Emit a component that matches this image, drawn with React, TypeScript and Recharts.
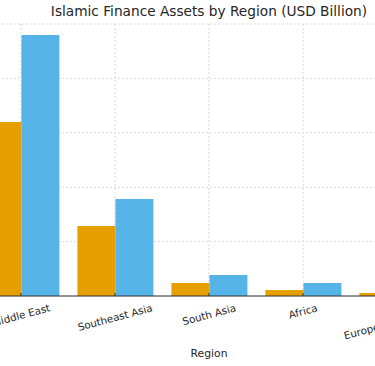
import React from "react";
import { Bar, BarChart, CartesianGrid, XAxis, YAxis } from "recharts";

const regions = ["Middle East", "Southeast Asia", "South Asia", "Africa", "Europe and Americas"];
const assets2018 = [800, 322, 60, 28, 14];
const assets2023 = [1200, 446, 97, 60, 22];
const yTicks = [0, 250, 500, 750, 1000, 1250];

const FONT = "DejaVu Sans";
const TICK_FONT = 10.3;
const ANGLE = 15;

let measureCtx: CanvasRenderingContext2D | null = null;
function textWidth(s: string) {
  if (!measureCtx) measureCtx = document.createElement("canvas").getContext("2d");
  if (!measureCtx) return s.length * TICK_FONT * 0.6;
  measureCtx.font = `${TICK_FONT}px "${FONT}"`;
  return measureCtx.measureText(s).width;
}

// matplotlib-style rotated label: centered on the tick, top of rotated box under the axis
function RegionTick(props: any) {
  const { x, y, payload } = props;
  const label = String(payload.value);
  const rad = (ANGLE * Math.PI) / 180;
  const w = textWidth(label);
  const h = TICK_FONT * 1.25;
  const boxH = w * Math.sin(rad) + h * Math.cos(rad);
  const cy = y + 5 + boxH / 2;
  return (
    <g>
      <line x1={x} x2={x} y1={y - 3} y2={y} stroke="#333" strokeWidth={1} />
      <text
        x={x}
        y={cy}
        textAnchor="middle"
        dominantBaseline="central"
        fontSize={TICK_FONT}
        fontFamily={FONT}
        fill="#262626"
        transform={`rotate(${-ANGLE}, ${x}, ${cy})`}
      >
        {label}
      </text>
    </g>
  );
}

export default function App() {
  const data = regions.map((region, i) => ({
    region,
    y2018: assets2018[i],
    y2023: assets2023[i],
  }));

  return (
    <div
      style={{
        position: "absolute",
        left: 0,
        top: 0,
        width: 375,
        height: 366,
        overflow: "hidden",
        background: "#fff",
        fontFamily: FONT,
      }}
    >
      <div style={{ position: "absolute", left: -100, top: 0 }}>
        <BarChart
          width={600}
          height={366}
          data={data}
          margin={{ top: 24, right: 56, bottom: 0, left: 74 }}
          barCategoryGap="10%"
          barGap={0}
        >
          <CartesianGrid stroke="#dadada" strokeDasharray="2 2" />
          <XAxis
            dataKey="region"
            interval={0}
            height={70}
            tickSize={0}
            tickMargin={0}
            tickLine={false}
            axisLine={{ stroke: "#333", strokeWidth: 1 }}
            tick={<RegionTick />}
          />
          <YAxis hide width={0} domain={[0, 1250]} ticks={yTicks} />
          <Bar dataKey="y2018" fill="#E69F00" isAnimationActive={false} />
          <Bar dataKey="y2023" fill="#56B4E9" isAnimationActive={false} />
        </BarChart>
      </div>
      <div
        style={{
          position: "absolute",
          left: 0,
          width: 418,
          top: 3,
          textAlign: "center",
          fontSize: 13.7,
          color: "#262626",
          whiteSpace: "nowrap",
        }}
      >
        Islamic Finance Assets by Region (USD Billion)
      </div>
      <div
        style={{
          position: "absolute",
          left: 0,
          width: 418,
          top: 347,
          textAlign: "center",
          fontSize: 10.8,
          color: "#262626",
        }}
      >
        Region
      </div>
    </div>
  );
}
